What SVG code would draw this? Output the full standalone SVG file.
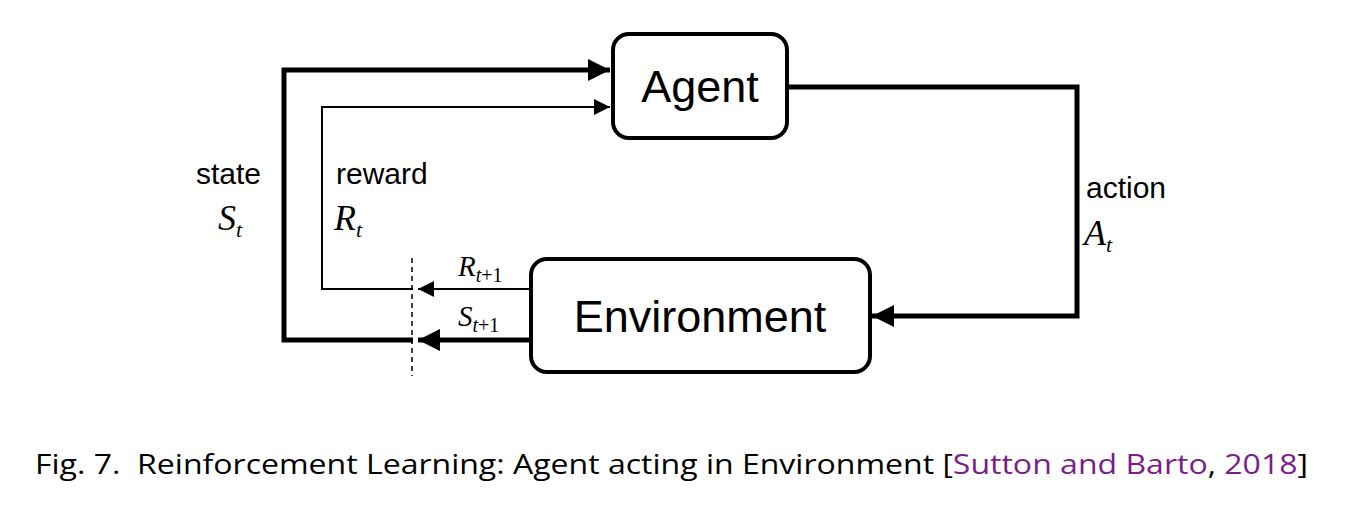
<svg xmlns="http://www.w3.org/2000/svg" width="1370" height="520" viewBox="0 0 1370 520">
<style>
.box{fill:#fff;stroke:#000;stroke-width:4}
.lbl{font-family:"Liberation Sans",Arial,sans-serif;font-size:30px}
.big{font-family:"Liberation Sans",Arial,sans-serif;font-size:45px}
.it{font-family:"Liberation Serif","Times New Roman",serif;font-style:italic;font-size:36px}
.it2{font-family:"Liberation Serif","Times New Roman",serif;font-style:italic;font-size:29px}
.sub{font-size:22px}
.sub2{font-size:20px}
.thick{fill:none;stroke:#000;stroke-width:5}
.thin{fill:none;stroke:#000;stroke-width:2}
.cap{font-family:"Open Sans","Liberation Sans",sans-serif;font-size:28px}
</style>
<defs>
<marker id="ah" viewBox="0 0 10 10" refX="10" refY="5" markerWidth="6" markerHeight="4.4" markerUnits="strokeWidth" orient="auto"><path d="M0,0L10,5L0,10z"/></marker>
<marker id="ahs" viewBox="0 0 10 10" refX="10" refY="5" markerWidth="12" markerHeight="8" markerUnits="strokeWidth" orient="auto"><path d="M0,0L10,5L0,10z"/></marker>
</defs>
<g id="connectors">
<path class="thick" d="M413,340H284V70H610" marker-end="url(#ah)"/>
<path class="thin" d="M413,289H322V107H610" marker-end="url(#ahs)"/>
<path class="thick" d="M530,340H418" marker-end="url(#ah)"/>
<path class="thin" d="M530,289H418" marker-end="url(#ahs)"/>
<path class="thick" d="M787,87H1077V316H872" marker-end="url(#ah)"/>
<line x1="412" y1="258" x2="412" y2="376" stroke="#000" stroke-width="1.5" stroke-dasharray="5,4"/>
</g>
<g id="agent"><rect class="box" x="613" y="34" width="174" height="104" rx="16"/>
<text class="big" x="700" y="102" text-anchor="middle">Agent</text></g>
<g id="environment"><rect class="box" x="531" y="259" width="339" height="113" rx="16"/>
<text class="big" x="700" y="332" text-anchor="middle">Environment</text></g>
<g id="labels">
<text class="lbl" x="196" y="184">state</text>
<text class="it" x="218" y="230">S<tspan class="sub" dy="7">t</tspan></text>
<text class="lbl" x="336" y="184">reward</text>
<text class="it" x="334" y="230">R<tspan class="sub" dy="7">t</tspan></text>
<text class="lbl" x="1086" y="198">action</text>
<text class="it" x="1084" y="245">A<tspan class="sub" dy="7">t</tspan></text>
<text class="it2" x="458" y="276">R<tspan class="sub2" dy="6">t</tspan><tspan class="sub2" font-style="normal">+1</tspan></text>
<text class="it2" x="458" y="326">S<tspan class="sub2" dy="6">t</tspan><tspan class="sub2" font-style="normal">+1</tspan></text>
</g>
<text class="cap" x="35" y="474" textLength="1273" lengthAdjust="spacingAndGlyphs" xml:space="preserve">Fig. 7.  Reinforcement Learning: Agent acting in Environment [<tspan fill="#7b1d8a">Sutton and Barto</tspan>, <tspan fill="#7b1d8a">2018</tspan>]</text>
</svg>
